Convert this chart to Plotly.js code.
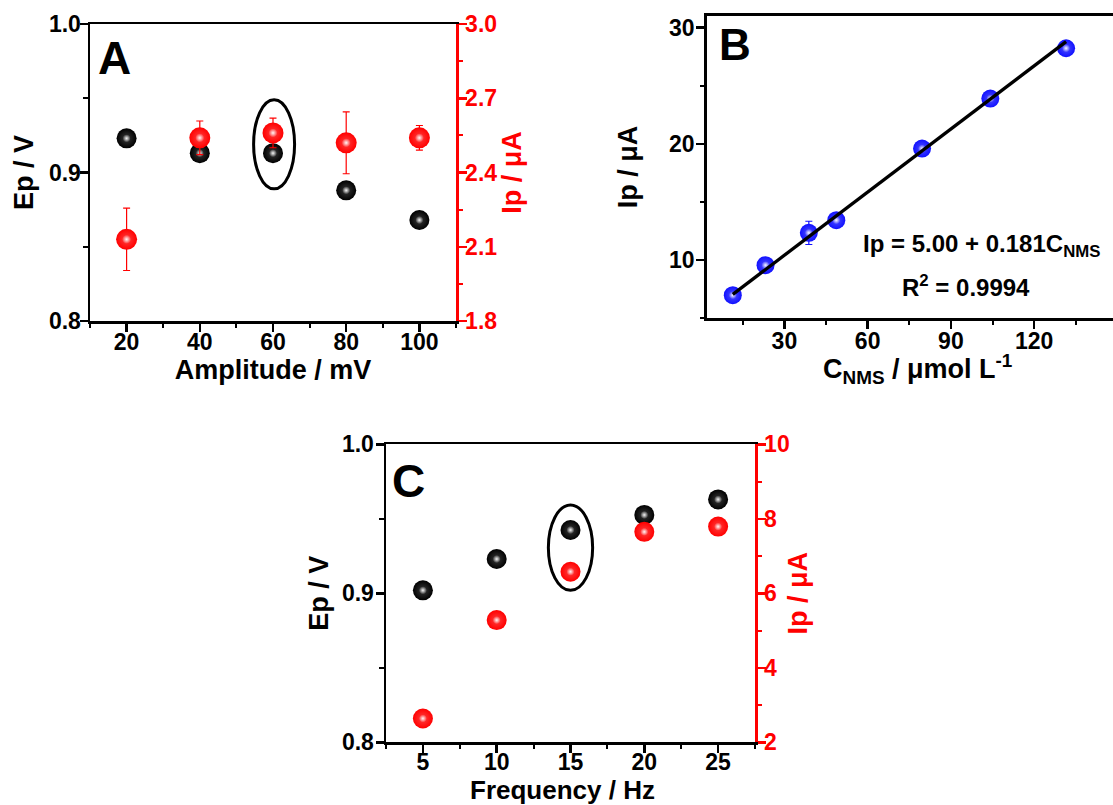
<!DOCTYPE html>
<html>
<head>
<meta charset="utf-8">
<script src="https://cdn.plot.ly/plotly-3.0.1.min.js"></script>
<style>html,body{margin:0;padding:0;background:#fff;}#chart{width:1113px;height:805px;}</style>
</head>
<body>
<div id="chart"></div>
<script>
// ---------- Data ----------
// Panel A: effect of pulse amplitude
const amplitude = [20, 40, 60, 80, 100];           // mV
const epAmplitude = [0.923, 0.913, 0.913, 0.888, 0.868]; // V
const ipAmplitude = [2.13, 2.54, 2.56, 2.52, 2.54];      // µA
const ipAmplitudeErr = [0.126, 0.068, 0.06, 0.125, 0.05];
const selectedAmplitude = 60;

// Panel B: calibration
const concNMS = [11.4, 23.2, 38.8, 48.7, 79.6, 104.2, 131.5]; // µmol L-1
const ipConc = [6.99, 9.57, 12.35, 13.44, 19.6, 23.9, 28.23];   // µA
const ipConcErr = [0.2, 0.25, 1.0, 0.25, 0.25, 0.25, 0.25];
const fitLineX = [11.4, 131.5];
const fitLineY = [7.06, 28.8];
const fitEquation = 'Ip = 5.00 + 0.181C<sub>NMS</sub>';
const fitR2 = 'R<sup>2</sup> = 0.9994';
const concTitle = 'C<sub>NMS</sub> / μmol L<sup>-1</sup>';

// Panel C: effect of frequency
const frequency = [5, 10, 15, 20, 25];             // Hz
const epFrequency = [0.902, 0.923, 0.9425, 0.9526, 0.963]; // V
const ipFrequency = [2.64, 5.28, 6.58, 7.65, 7.79];       // µA
const ipFrequencyErr = [0.08, 0.05, 0.1, 0.06, 0.08];
const selectedFrequency = 15;
const freqTitle = 'Frequency / Hz';

// ---------- Styling helpers ----------
const FONT = '"Liberation Sans", Arial, Helvetica, sans-serif';
const RED = '#ff0000', BLUE = '#1010ff', BLACK = '#000000';
const W = 1113, H = 805;
const px = v => v / W;
const py = v => 1 - v / H;

function sphere(x, y, color, size, xa, ya, err, shade) {
  const base = {
    x: x, y: y, xaxis: xa, yaxis: ya, type: 'scatter', mode: 'markers',
    showlegend: false, hoverinfo: 'x+y',
    marker: {size: size, color: color, line: {width: 0},
             gradient: {type: 'radial', color: shade}}
  };
  if (err) {
    base.error_y = {type: 'data', array: err, visible: true, color: color, thickness: 1.2, width: 3.5};
  }
  const hi = {
    x: x, y: y, xaxis: xa, yaxis: ya, type: 'scatter', mode: 'markers',
    showlegend: false, hoverinfo: 'skip',
    marker: {size: Math.round(size * 0.42), color: 'rgba(255,255,255,0)', line: {width: 0},
             gradient: {type: 'radial', color: 'rgba(255,255,255,0.95)'}}
  };
  return [base, hi];
}

const traces = [].concat(
  // A
  sphere(amplitude, epAmplitude, BLACK, 20, 'x', 'y', null, '#3a3a3a'),
  sphere(amplitude, ipAmplitude, RED, 21, 'x', 'y2', ipAmplitudeErr, '#ff4040'),
  // B
  sphere(concNMS, ipConc, BLUE, 18, 'x2', 'y3', ipConcErr, '#5050ff'),
  [{x: fitLineX, y: fitLineY, xaxis: 'x2', yaxis: 'y3', type: 'scatter', mode: 'lines',
    line: {color: BLACK, width: 3.3}, showlegend: false, hoverinfo: 'skip'}],
  // C
  sphere(frequency, epFrequency, BLACK, 20, 'x3', 'y4', null, '#3a3a3a'),
  sphere(frequency, ipFrequency, RED, 20, 'x3', 'y5', ipFrequencyErr, '#ff4040')
);

const tickFont = {family: FONT, size: 23, color: BLACK, weight: 700};
const titleFont = {family: FONT, size: 27, color: BLACK, weight: 700};
const redTick = Object.assign({}, tickFont, {color: RED});
const redTitle = Object.assign({}, titleFont, {color: RED});

function axisBase(extra) {
  return Object.assign({
    showgrid: false, zeroline: false, showline: true, linecolor: BLACK, linewidth: 2.5,
    ticks: 'outside', ticklen: 8, tickwidth: 2.5, tickcolor: BLACK,
    tickfont: tickFont, automargin: false, fixedrange: true,
  }, extra);
}
function minor(dtick, tick0, color) {
  return {dtick: dtick, tick0: tick0, ticks: 'outside', ticklen: 4.5, tickwidth: 2, tickcolor: color || BLACK, showgrid: false};
}

const layout = {
  width: W, height: H,
  margin: {l: 0, r: 0, t: 0, b: 0},
  paper_bgcolor: '#fff', plot_bgcolor: 'rgba(0,0,0,0)',
  showlegend: false,
  font: {family: FONT},
  // ---- Panel A ----
  xaxis: axisBase({domain: [px(90), px(456)], anchor: 'y', range: [10, 110],
    tick0: 20, dtick: 20, mirror: true, minor: minor(20, 10), ticklabelstandoff: -9,
    title: {text: 'Amplitude / mV', font: titleFont, standoff: 0}}),
  yaxis: axisBase({domain: [py(321), py(24)], anchor: 'x', range: [0.8, 1.0],
    tick0: 0.8, dtick: 0.1, tickformat: '.1f', minor: minor(0.05, 0.8), ticklabelstandoff: -6,
    title: {text: 'Ep / V', font: titleFont, standoff: 8}}),
  yaxis2: axisBase({overlaying: 'y', anchor: 'x', side: 'right', range: [1.8, 3.0],
    tick0: 1.8, dtick: 0.3, tickformat: '.1f', linecolor: RED, tickcolor: RED, ticklabelstandoff: -6,
    tickfont: redTick, minor: minor(0.15, 1.8, RED),
    title: {text: 'Ip / μA', font: redTitle, standoff: 4}}),
  // ---- Panel B ----
  xaxis2: axisBase({domain: [px(706.7), 1], anchor: 'y3', range: [2, 148.4],
    tick0: 0, dtick: 30, mirror: true, minor: minor(15, 0), ticklabelstandoff: -7}),
  yaxis3: axisBase({domain: [py(318.3), py(15.7)], anchor: 'x2', range: [5, 31.03],
    tick0: 0, dtick: 10, minor: minor(5, 0), ticklabelstandoff: -3,
    title: {text: 'Ip / μA', font: titleFont, standoff: 24}}),
  // ---- Panel C ----
  xaxis3: axisBase({domain: [px(386), px(755)], anchor: 'y4', range: [2.5, 27.5],
    tick0: 0, dtick: 5, mirror: true, minor: minor(2.5, 0), ticklabelstandoff: -10}),
  yaxis4: axisBase({domain: [py(742.3), py(444.3)], anchor: 'x3', range: [0.8, 1.0],
    tick0: 0.8, dtick: 0.1, tickformat: '.1f', minor: minor(0.05, 0.8), ticklabelstandoff: -3,
    title: {text: 'Ep / V', font: titleFont, standoff: 6}}),
  yaxis5: axisBase({overlaying: 'y4', anchor: 'x3', side: 'right', range: [2, 10],
    tick0: 2, dtick: 2, linecolor: RED, tickcolor: RED, ticklabelstandoff: -6,
    tickfont: redTick, minor: minor(1, 0, RED),
    title: {text: 'Ip / μA', font: redTitle, standoff: 0}}),
  shapes: [
    {type: 'circle', xref: 'x', yref: 'y', x0: selectedAmplitude - 5.3, x1: selectedAmplitude + 5.9,
     y0: 0.889, y1: 0.949, line: {color: BLACK, width: 3}},
    {type: 'circle', xref: 'x3', yref: 'y4', x0: selectedFrequency - 1.5, x1: selectedFrequency + 1.5,
     y0: 0.902, y1: 0.9593, line: {color: BLACK, width: 3}}
  ],
  annotations: [
    {text: 'A', xref: 'paper', yref: 'paper', x: px(114.5), y: py(58), xanchor: 'center', yanchor: 'middle',
     showarrow: false, font: {family: FONT, size: 46, color: BLACK, weight: 700}},
    {text: 'B', xref: 'paper', yref: 'paper', x: px(734.7), y: py(44.5), xanchor: 'center', yanchor: 'middle',
     showarrow: false, font: {family: FONT, size: 44, color: BLACK, weight: 700}},
    {text: 'C', xref: 'paper', yref: 'paper', x: px(408.3), y: py(480.5), xanchor: 'center', yanchor: 'middle',
     showarrow: false, font: {family: FONT, size: 46, color: BLACK, weight: 700}},
    {text: concTitle, xref: 'paper', yref: 'paper', x: px(917), y: py(369), xanchor: 'center', yanchor: 'middle',
     showarrow: false, font: titleFont},
    {text: freqTitle, xref: 'paper', yref: 'paper', x: px(562), y: py(790), xanchor: 'center', yanchor: 'middle',
     showarrow: false, font: Object.assign({}, titleFont, {size: 26})},
    {text: fitEquation, xref: 'x2', yref: 'y3', x: 101.1, y: 11.29, xanchor: 'center', yanchor: 'middle',
     showarrow: false, font: {family: FONT, size: 24, color: BLACK, weight: 700}},
    {text: fitR2, xref: 'x2', yref: 'y3', x: 95.5, y: 7.76, xanchor: 'center', yanchor: 'middle',
     showarrow: false, font: {family: FONT, size: 24, color: BLACK, weight: 700}}
  ]
};

Plotly.newPlot('chart', traces, layout, {displayModeBar: false, staticPlot: true});
</script>
</body>
</html>
